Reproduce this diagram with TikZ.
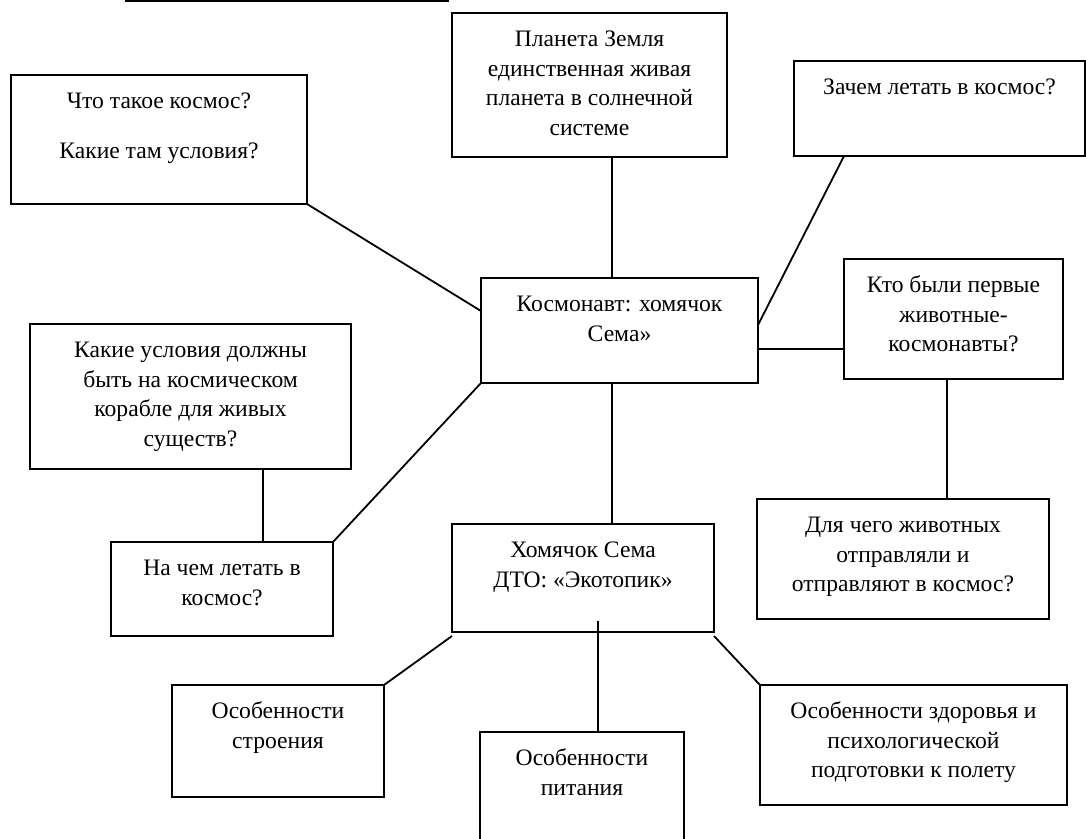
\documentclass[tikz,border=0pt]{standalone}
\usepackage{fontspec}
\setmainfont{Liberation Serif}
\tikzset{
  box/.style={draw, line width=2pt, rectangle, inner sep=0pt, outer sep=0pt, fill=white},
  txt/.style={align=center, inner sep=0pt, outer sep=0pt, anchor=north, font=\fontsize{23.6}{29.5}\selectfont},
  link/.style={line width=1.8pt},
}
\newcommand\fstrut{\rule{0pt}{17pt}}
\newcommand\mybox[6]{%
  \node[box, minimum width=#4pt, minimum height=#5pt] (#1) at (#2,#3) {};
  \node[txt] (#1t) at ([yshift=-16.5pt]#1.north) {\fstrut #6};
}
\begin{document}
\begin{tikzpicture}[x=1pt, y=-1pt]
\useasboundingbox (0,0) rectangle (1086,838);
\clip (0,0) rectangle (1086,838);
\fill[white] (0,0) rectangle (1086,838);

\coordinate (tl1) at (125,1);
\coordinate (tl2) at (449,1);
\draw[link] (tl1) -- (tl2);

\mybox{q1}{159}{139.5}{296}{129}{Что такое космос?\\[20.5pt]Какие там условия?}
\mybox{planet}{589.5}{85}{275}{144}{Планета Земля\\единственная живая\\планета в солнечной\\системе}
\mybox{why}{939.5}{108.5}{291}{95}{Зачем летать в космос?}
\mybox{cent}{619.5}{330.5}{277}{105}{Космонавт: хомячок\\Сема»}
\mybox{who}{953.5}{319}{219}{120}{Кто были первые\\животные-\\космонавты?}
\mybox{why2}{903}{559}{292}{120}{Для чего животных\\отправляли и\\отправляют в космос?}
\mybox{cond}{190.5}{396.5}{321}{145}{Какие условия должны\\быть на космическом\\корабле для живых\\существ?}
\mybox{fly}{222}{589}{222}{94}{На чем летать в\\космос?}
\mybox{ham}{583}{578}{262}{108}{Хомячок Сема\\ДТО: «Экотопик»}
\mybox{struct}{278}{741}{212}{112}{Особенности\\строения}
\mybox{food}{582}{802}{204}{140}{Особенности\\питания}
\mybox{health}{913.5}{745}{307}{120}{Особенности здоровья и\\психологической\\подготовки к полету}

\draw[link] (q1.south east) -- ([yshift=19.5pt]cent.west);
\draw[link] ([xshift=22.5pt]planet.south) -- ([xshift=-7.5pt]cent.north);
\draw[link] ([xshift=-95.5pt]why.south) -- ([yshift=5.5pt]cent.east);
\draw[link] ([yshift=-18.5pt]cent.east) -- ([yshift=-18.5pt]cent.east -| who.west);
\draw[link] ([xshift=-7.5pt]cent.south) -- ([xshift=29pt]ham.north);
\draw[link] (cent.south west) -- (fly.north east);
\draw[link] ([xshift=72.5pt]cond.south) -- ([xshift=41pt]fly.north);
\draw[link] ([xshift=-6.5pt]who.south) -- ([xshift=44pt]why2.north);
\coordinate (hamin) at ([xshift=15pt,yshift=11pt]ham.south);
\draw[link] (hamin) -- ([xshift=16pt]food.north);
\draw[link] ([yshift=-4pt]ham.south west) -- (struct.north east);
\draw[link] ([yshift=-4pt]ham.south east) -- (health.north west);
\end{tikzpicture}
\end{document}
